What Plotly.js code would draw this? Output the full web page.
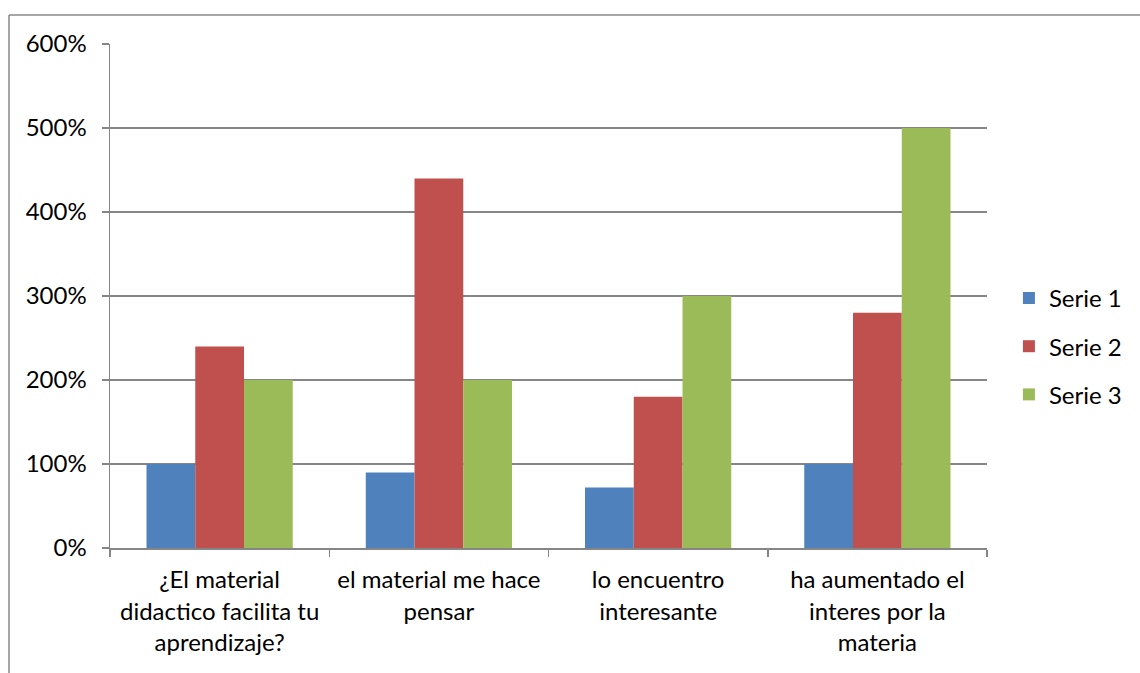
<!DOCTYPE html>
<html>
<head>
<meta charset="utf-8">
<script src="https://cdn.plot.ly/plotly-3.0.1.min.js"></script>
<style>
html,body{margin:0;padding:0;background:#fff;}
#chart{width:1140px;height:673px;}
</style>
</head>
<body>
<div id="chart"></div>
<script>
var categories = [
  "¿El material<br>didactico facilita tu<br>aprendizaje?",
  "el material me hace<br>pensar",
  "lo encuentro<br>interesante",
  "ha aumentado el<br>interes por la<br>materia"
];
var serie1 = [1.0, 0.9, 0.72, 1.0];
var serie2 = [2.4, 4.4, 1.8, 2.8];
var serie3 = [2.0, 2.0, 3.0, 5.0];
var seriesNames = ["Serie 1", "Serie 2", "Serie 3"];
var seriesColors = ["#4F81BD", "#C0504D", "#9BBB59"];
var yTicks = [0, 1, 2, 3, 4, 5, 6];

var allSeries = [serie1, serie2, serie3];
var traces = allSeries.map(function(vals, i){
  return {
    type: "bar",
    name: seriesNames[i],
    x: categories,
    y: vals,
    legendgroup: "g" + i,
    marker: {color: seriesColors[i], line: {width: 0}},
    hoverinfo: "none"
  };
});

var font = {family: "Lato, 'Open Sans', sans-serif", size: 24, color: "#000"};
var layout = {
  width: 1140, height: 673,
  margin: {l: 110, r: 153, t: 44, b: 125},
  paper_bgcolor: "#fff", plot_bgcolor: "#fff",
  barmode: "group",
  bargap: 0.333, bargroupgap: 0,
  font: font,
  showlegend: true,
  legend: {
    x: 1.025, xanchor: "left", y: 0.40, yanchor: "middle",
    font: font, tracegroupgap: 14, traceorder: "grouped",
    itemclick: false
  },
  xaxis: {
    type: "category",
    tickson: "boundaries",
    ticks: "outside", ticklen: 7, tickwidth: 1.5, tickcolor: "#868686",
    showline: true, linecolor: "#868686", linewidth: 1.5,
    showgrid: false, zeroline: false,
    tickfont: font,
    ticklabelstandoff: 10,
    automargin: false
  },
  yaxis: {
    range: [0, 6],
    tickvals: yTicks,
    tickformat: ".0%",
    ticks: "outside", ticklen: 7, tickwidth: 1.5, tickcolor: "#868686",
    showline: true, linecolor: "#868686", linewidth: 1.5,
    showgrid: true, gridcolor: "#868686", gridwidth: 1.3,
    zeroline: false,
    tickfont: font,
    ticklabelstandoff: 10,
    automargin: false
  },
  shapes: [
    {type: "line", xref: "paper", yref: "paper",
     x0: (9-110)/877, x1: 2, y0: (673-125-15)/504, y1: (673-125-15)/504,
     line: {color: "#888", width: 1.5}},
    {type: "line", xref: "paper", yref: "paper",
     x0: (9-110)/877, x1: (9-110)/877, y0: (673-125-15)/504, y1: -1,
     line: {color: "#888", width: 1.5}}
  ]
};

Plotly.newPlot("chart", traces, layout, {staticPlot: true, displayModeBar: false});
</script>
</body>
</html>
